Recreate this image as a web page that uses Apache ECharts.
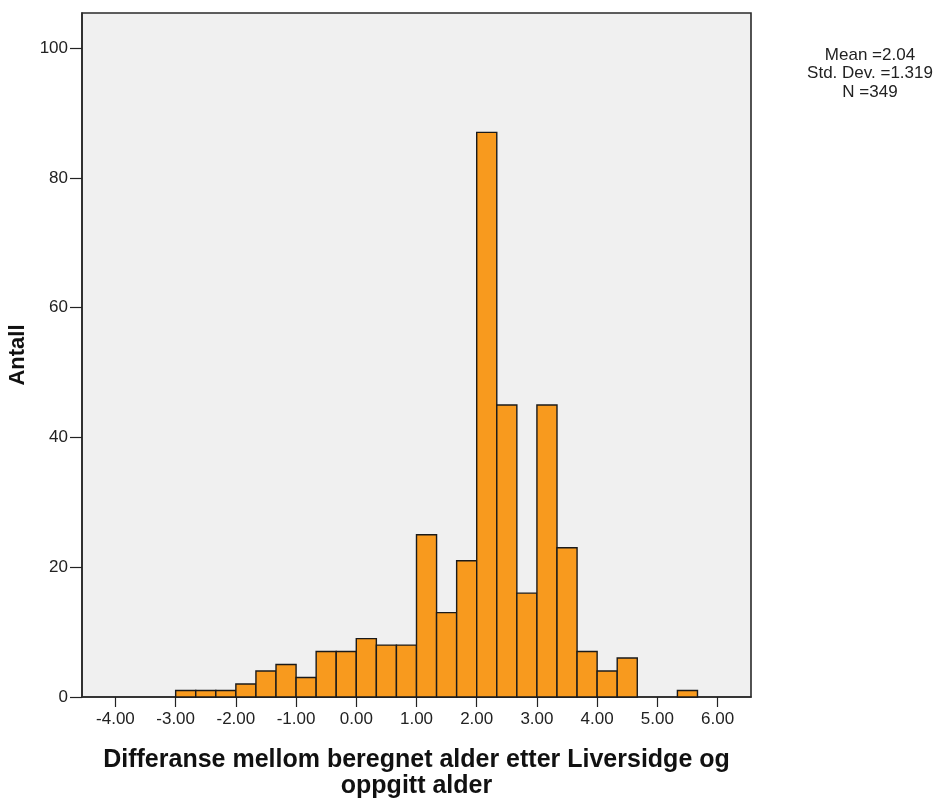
<!DOCTYPE html>
<html>
<head>
<meta charset="utf-8">
<script src="https://cdn.jsdelivr.net/npm/echarts@6/dist/echarts.min.js"></script>
<style>
  html, body { margin: 0; padding: 0; background: #ffffff; }
  #chart { width: 940px; height: 799px; }
</style>
</head>
<body>
<div id="chart"></div>
<script>
// Histogram bins: lower edges (bin width 1/3) and counts
const binStarts = [-3, -8/3, -7/3, -2, -5/3, -4/3, -1, -2/3, -1/3, 0, 1/3, 2/3,
                   1, 4/3, 5/3, 2, 7/3, 8/3, 3, 10/3, 11/3, 4, 13/3, 14/3, 5, 16/3];
const binWidth = 1/3;
const counts = [1, 1, 1, 2, 4, 5, 3, 7, 7, 9, 8, 8,
                25, 13, 21, 87, 45, 16, 45, 23, 7, 4, 6, 0, 0, 1];
const xTicks = [-4, -3, -2, -1, 0, 1, 2, 3, 4, 5, 6];
const yTicks = [0, 20, 40, 60, 80, 100];
const statsLines = ['Mean =2.04', 'Std. Dev. =1.319', 'N =349'];

const binData = binStarts.map((s, i) => [s, s + binWidth, counts[i]]);

const chart = echarts.init(document.getElementById('chart'));
const font = 'Liberation Sans, Arial, sans-serif';

chart.setOption({
  animation: false,
  backgroundColor: '#ffffff',
  grid: {
    left: 82, right: 189, top: 13, bottom: 102,
    outerBoundsMode: 'none',
    show: true, backgroundColor: '#f0f0f0',
    borderColor: '#2a2a2a', borderWidth: 1.6
  },
  xAxis: {
    type: 'value',
    min: -4 - 5/9, max: 6 + 5/9,
    axisLine: { show: true, onZero: false, lineStyle: { color: '#2a2a2a', width: 1.6 } },
    axisTick: { show: true, length: 10, customValues: xTicks, lineStyle: { color: '#222', width: 1.2 } },
    axisLabel: {
      customValues: xTicks, margin: 14,
      color: '#222', fontFamily: font, fontSize: 17,
      formatter: v => v.toFixed(2)
    },
    splitLine: { show: false },
    name: 'Differanse mellom beregnet alder etter Liversidge og\noppgitt alder',
    nameLocation: 'middle', nameGap: 50,
    nameTextStyle: { fontFamily: font, fontSize: 25, fontWeight: 'bold', color: '#111', lineHeight: 26 }
  },
  yAxis: {
    type: 'value',
    min: 0, max: 105.4,
    axisLine: { show: true, onZero: false, lineStyle: { color: '#2a2a2a', width: 1.6 } },
    axisTick: { show: true, length: 12, customValues: yTicks, lineStyle: { color: '#222', width: 1.2 } },
    axisLabel: {
      customValues: yTicks, margin: 14,
      color: '#222', fontFamily: font, fontSize: 17
    },
    splitLine: { show: false },
    name: 'Antall', nameLocation: 'middle', nameGap: 52, nameRotate: 90,
    nameTextStyle: { fontFamily: font, fontSize: 22, fontWeight: 'bold', color: '#111' }
  },
  graphic: statsLines.map((t, i) => ({
    type: 'text', x: 870, y: 55 + i * 18.5,
    style: { text: t, fontFamily: font, fontSize: 17, fill: '#222',
             align: 'center', verticalAlign: 'middle' }
  })),
  series: [{
    type: 'custom',
    data: binData,
    encode: { x: [0, 1], y: 2 },
    renderItem: (params, api) => {
      const h = api.value(2);
      if (!h) return null;
      const p0 = api.coord([api.value(0), 0]);
      const p1 = api.coord([api.value(1), h]);
      return {
        type: 'rect',
        shape: { x: p0[0], y: p1[1], width: p1[0] - p0[0], height: p0[1] - p1[1] },
        style: { fill: '#f89a1e', stroke: '#1a1a1a', lineWidth: 1.4 }
      };
    }
  }]
});
</script>
</body>
</html>
